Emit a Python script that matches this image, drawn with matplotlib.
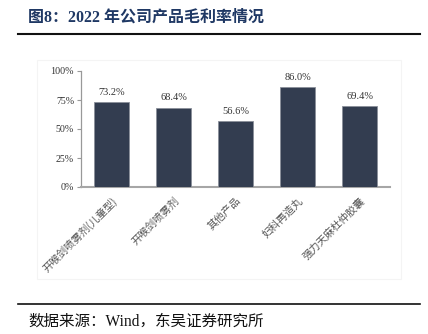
import matplotlib
matplotlib.use("Agg")
import matplotlib.pyplot as plt
from matplotlib.lines import Line2D
from matplotlib.patches import Rectangle

categories = ["开喉剑喷雾剂(儿童型)", "开喉剑喷雾剂", "其他产品", "妇科再造丸", "强力天麻杜仲胶囊"]
margins = [73.2, 68.4, 56.6, 86.0, 69.4]
yticks = [0, 25, 50, 75, 100]
title = "图8：2022 年公司产品毛利率情况"
source = "数据来源：Wind，东吴证券研究所"

serif = ["Liberation Serif", "Noto Sans CJK SC"]
cjk = ["Noto Sans CJK SC", "DejaVu Sans"]

fig = plt.figure(figsize=(4.28, 3.34), dpi=100)
W, H = 428, 334

# faint chart frame
fig.add_artist(Rectangle((37 / W, 1 - 279 / H), (401 - 37) / W, (279 - 60) / H,
                         transform=fig.transFigure, fill=False, edgecolor="#f4f4f4", lw=0.8))

ax = fig.add_axes([81 / W, 1 - 187 / H, (390 - 81) / W, (187 - 71) / H])
x = list(range(len(categories)))
bars = ax.bar(x, margins, width=0.565, color="#333D50", edgecolor="#8a8f99", linewidth=0.6, zorder=3)
for xi, v in zip(x, margins):
    ax.annotate(f"{v:.1f}%", (xi, v), xytext=(0, 4), textcoords="offset points",
                ha="center", va="bottom", fontsize=7.5, family=serif, color="#333333")

ax.set_xlim(-0.49, len(categories) - 0.51)
ax.set_ylim(0, 100)
ax.set_yticks(yticks)
ax.set_yticklabels([f"{t}%" for t in yticks], family=serif, fontsize=7.2, color="#333333")
ax.set_xticks(x)
ax.set_xticklabels(categories, rotation=45, ha="right", rotation_mode="anchor",
                   family=cjk, fontsize=7.5, color="#555555")
ax.tick_params(axis="x", length=0, pad=6)
ax.tick_params(axis="y", length=3, width=0.8, color="#999999", pad=2)
for s in ["top", "right"]:
    ax.spines[s].set_visible(False)
ax.spines["left"].set_color("#999999")
ax.spines["left"].set_linewidth(0.9)
ax.spines["bottom"].set_color("#a6a6a6")
ax.spines["bottom"].set_linewidth(1.5)

fig.text(28 / W, 1 - 18 / H, title, family=serif, fontsize=11.5, fontweight="bold",
         color="#1F3864", ha="left", va="center")
fig.add_artist(Line2D([18 / W, 420 / W], [1 - 34 / H, 1 - 34 / H], transform=fig.transFigure,
                      color="#111111", lw=1.5))
fig.add_artist(Line2D([18 / W, 420 / W], [1 - 304 / H, 1 - 304 / H], transform=fig.transFigure,
                      color="#111111", lw=1.2))
fig.text(28 / W, 1 - 322 / H, source, family=serif, fontsize=11.2, color="#111111",
         ha="left", va="center")

fig.savefig("out.png", dpi=100)
